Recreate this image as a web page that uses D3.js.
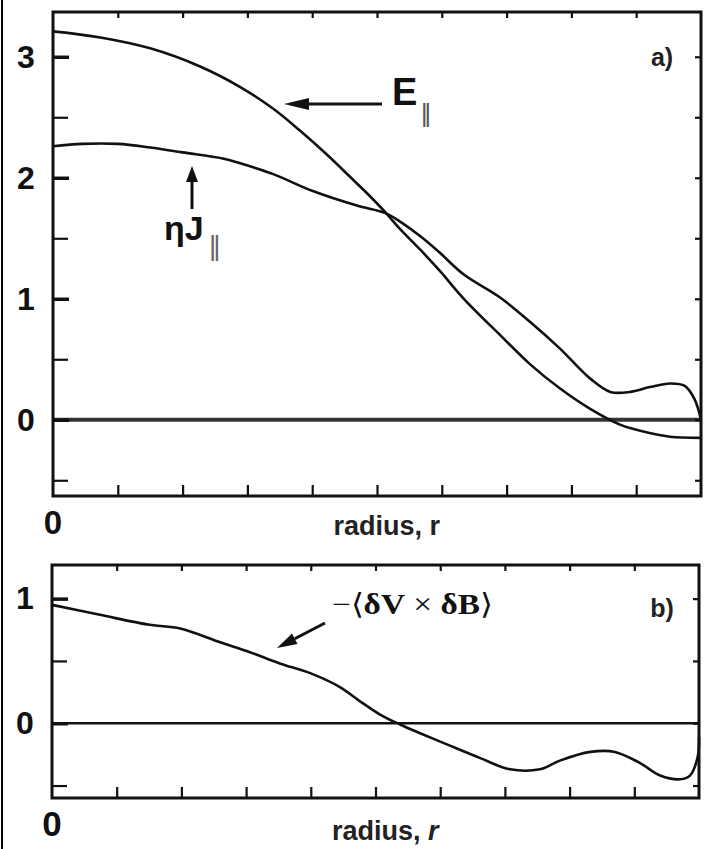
<!DOCTYPE html>
<html>
<head>
<meta charset="utf-8">
<script src="https://cdn.jsdelivr.net/npm/d3@7"></script>
<style>
  body { margin: 0; background: #fff; }
  svg { display: block; }
  .tick line { stroke: #111; }
</style>
</head>
<body>
<div id="chart"></div>
<script>
// radius positions (fraction of r)
var rTop = [0, 0.073, 0.15, 0.227, 0.289, 0.34, 0.381, 0.423, 0.458, 0.485, 0.512, 0.535, 0.566, 0.597, 0.634, 0.69, 0.736, 0.782, 0.829, 0.875, 0.921, 0.952, 1.0];
var eParallel = [3.21, 3.16, 3.07, 2.92, 2.75, 2.57, 2.39, 2.19, 2.01, 1.87, 1.72, 1.58, 1.41, 1.23, 1.00, 0.70, 0.46, 0.26, 0.09, -0.04, -0.11, -0.14, -0.15];

var rEta = [0, 0.045, 0.10, 0.15, 0.20, 0.262, 0.289, 0.34, 0.401, 0.469, 0.512, 0.535, 0.566, 0.597, 0.634, 0.69, 0.736, 0.782, 0.829, 0.86, 0.89, 0.921, 0.952, 0.975, 0.99, 1.0];
var etaJ = [2.26, 2.28, 2.28, 2.25, 2.21, 2.16, 2.12, 2.03, 1.89, 1.77, 1.71, 1.64, 1.52, 1.38, 1.20, 1.01, 0.81, 0.59, 0.34, 0.23, 0.23, 0.27, 0.30, 0.28, 0.17, 0.0];

var rBot = [0, 0.074, 0.151, 0.198, 0.26, 0.306, 0.352, 0.40, 0.445, 0.475, 0.507, 0.538, 0.569, 0.615, 0.662, 0.708, 0.754, 0.785, 0.832, 0.87, 0.909, 0.94, 0.971, 0.986, 0.998, 1.0];
var vxb = [0.95, 0.87, 0.79, 0.76, 0.65, 0.57, 0.48, 0.40, 0.29, 0.18, 0.07, -0.01, -0.08, -0.18, -0.28, -0.37, -0.37, -0.30, -0.23, -0.23, -0.32, -0.42, -0.45, -0.42, -0.27, -0.11];

var xTicks = [0.1, 0.2, 0.3, 0.4, 0.5, 0.6, 0.7, 0.8, 0.9];
var topMajor = [0, 1, 2, 3], topMinor = [-0.5, 0.5, 1.5, 2.5];
var botMajor = [0, 1], botMinor = [-0.5, 0.5];

var W = 704, H = 849;
var svg = d3.select("#chart").append("svg").attr("width", W).attr("height", H);

// scanned page edge
svg.append("line").attr("x1", 2).attr("x2", 2).attr("y1", 0).attr("y2", H)
  .attr("stroke", "#000").attr("stroke-width", 2);

var font = "'Liberation Sans', Arial, sans-serif";

function panel(opt) {
  var x = d3.scaleLinear().domain([0, 1]).range([opt.left, opt.right]);
  var y = d3.scaleLinear().domain(opt.yDomain).range([opt.bottom, opt.top]);
  var g = svg.append("g");

  // zero line
  g.append("line").attr("x1", x(0)).attr("x2", x(1)).attr("y1", y(0)).attr("y2", y(0))
    .attr("stroke", opt.zeroColor).attr("stroke-width", opt.zeroWidth);

  // curves
  var line = d3.line().x(function (d) { return x(d[0]); }).y(function (d) { return y(d[1]); })
    .curve(d3.curveCatmullRom.alpha(0.5));
  opt.series.forEach(function (s) {
    g.append("path").datum(d3.zip(s.r, s.v)).attr("d", line)
      .attr("fill", "none").attr("stroke", "#111").attr("stroke-width", 2.6)
      .attr("stroke-linejoin", "round");
  });

  // axes with inward ticks
  function ax(a, tf, size, w) {
    var sel = g.append("g").call(a.tickSize(size).tickFormat(tf));
    sel.select(".domain").remove();
    sel.selectAll(".tick line").attr("stroke-width", w);
    return sel;
  }
  ax(d3.axisBottom(x).tickValues(xTicks), "", -11, 2.2).attr("transform", "translate(0," + opt.bottom + ")");
  ax(d3.axisTop(x).tickValues(xTicks), "", -6, 2.2).attr("transform", "translate(0," + opt.top + ")");
  ax(d3.axisRight(y).tickValues(opt.major.concat(opt.minor)), "", -6, 2.2).attr("transform", "translate(" + opt.right + ",0)");
  ax(d3.axisLeft(y).tickValues(opt.minor), "", -15, 2.2).attr("transform", "translate(" + opt.left + ",0)");
  var lab = ax(d3.axisLeft(y).tickValues(opt.major), d3.format("d"), -16, 3.5)
    .attr("transform", "translate(" + opt.left + ",0)");
  lab.selectAll("text").attr("x", -27).attr("text-anchor", "middle")
    .attr("font-family", font).attr("font-weight", "bold").attr("font-size", 32).attr("fill", "#111");

  // frame
  g.append("rect").attr("x", opt.left).attr("y", opt.top)
    .attr("width", opt.right - opt.left).attr("height", opt.bottom - opt.top)
    .attr("fill", "none").attr("stroke", "#111").attr("stroke-width", 3);

  // x-axis labels
  g.append("text").attr("x", x(0)).attr("y", opt.bottom + 38).attr("text-anchor", "middle")
    .attr("font-family", font).attr("font-weight", "bold").attr("font-size", opt.zeroSize)
    .attr("fill", "#111").text("0");
  var t = g.append("text").attr("x", x(0.515)).attr("y", opt.bottom + opt.labelDy).attr("text-anchor", "middle")
    .attr("font-family", font).attr("font-weight", "bold").attr("font-size", 27).attr("fill", "#222");
  t.append("tspan").text("radius, ");
  t.append("tspan").attr("font-style", opt.italicR ? "italic" : "normal").text("r");

  // panel letter
  g.append("text").attr("x", opt.letterX).attr("y", opt.letterY).attr("text-anchor", "middle")
    .attr("font-family", font).attr("font-weight", "bold").attr("font-size", 25).attr("fill", "#222")
    .text(opt.letter);

  return { x: x, y: y, g: g };
}

function arrow(g, x1, y1, x2, y2, head, half, w) {
  var dx = x2 - x1, dy = y2 - y1, L = Math.sqrt(dx * dx + dy * dy);
  var ux = dx / L, uy = dy / L;
  var bx = x2 - ux * head, by = y2 - uy * head;
  g.append("line").attr("x1", x1).attr("y1", y1).attr("x2", bx).attr("y2", by)
    .attr("stroke", "#111").attr("stroke-width", w);
  g.append("path").attr("d", "M" + x2 + "," + y2 + "L" + (bx - uy * half) + "," + (by + ux * half) +
    "L" + (bx + uy * half) + "," + (by - ux * half) + "Z").attr("fill", "#111");
}

var a = panel({
  left: 53, right: 701, top: 12, bottom: 496, yDomain: [-0.63, 3.37],
  major: topMajor, minor: topMinor, zeroColor: "#333", zeroWidth: 4,
  series: [{ r: rTop, v: eParallel }, { r: rEta, v: etaJ }],
  zeroSize: 33, labelDy: 39, italicR: false, letter: "a)", letterX: 662, letterY: 66
});

// E|| label
arrow(a.g, 382, 104, 284, 104, 25, 6, 3);
a.g.append("text").attr("x", 392).attr("y", 105)
  .attr("font-family", font).attr("font-weight", "bold").attr("font-size", 38).attr("fill", "#111")
  .text("E");
a.g.append("text").attr("x", 421).attr("y", 122).attr("font-family", font).attr("font-size", 25)
  .attr("fill", "#555").attr("letter-spacing", -3).text("||");

// eta J|| label
arrow(a.g, 192, 209, 192, 166, 16, 6, 3);
a.g.append("text").attr("x", 164).attr("y", 240)
  .attr("font-family", font).attr("font-weight", "bold").attr("font-size", 34).attr("fill", "#111")
  .text("\u03b7J");
a.g.append("text").attr("x", 209).attr("y", 255).attr("font-family", font).attr("font-size", 28)
  .attr("fill", "#666").attr("letter-spacing", -3).text("||");

var b = panel({
  left: 52, right: 699, top: 565, bottom: 798, yDomain: [-0.60, 1.27],
  major: botMajor, minor: botMinor, zeroColor: "#111", zeroWidth: 2.4,
  series: [{ r: rBot, v: vxb }],
  zeroSize: 35, labelDy: 42, italicR: true, letter: "b)", letterX: 662, letterY: 617
});

// -<dV x dB> label
arrow(b.g, 325, 623, 277, 648, 20, 6, 3);
var bl = b.g.append("text").attr("transform", "translate(332,614) scale(1.15,1)")
  .attr("font-family", "'Liberation Serif', 'Times New Roman', serif").attr("font-size", 29)
  .attr("fill", "#111");
bl.append("tspan").text("\u2212\u27e8");
bl.append("tspan").attr("font-weight", "bold").text("\u03b4V");
bl.append("tspan").text(" \u00d7 ");
bl.append("tspan").attr("font-weight", "bold").text("\u03b4B");
bl.append("tspan").text("\u27e9");
</script>
</body>
</html>
